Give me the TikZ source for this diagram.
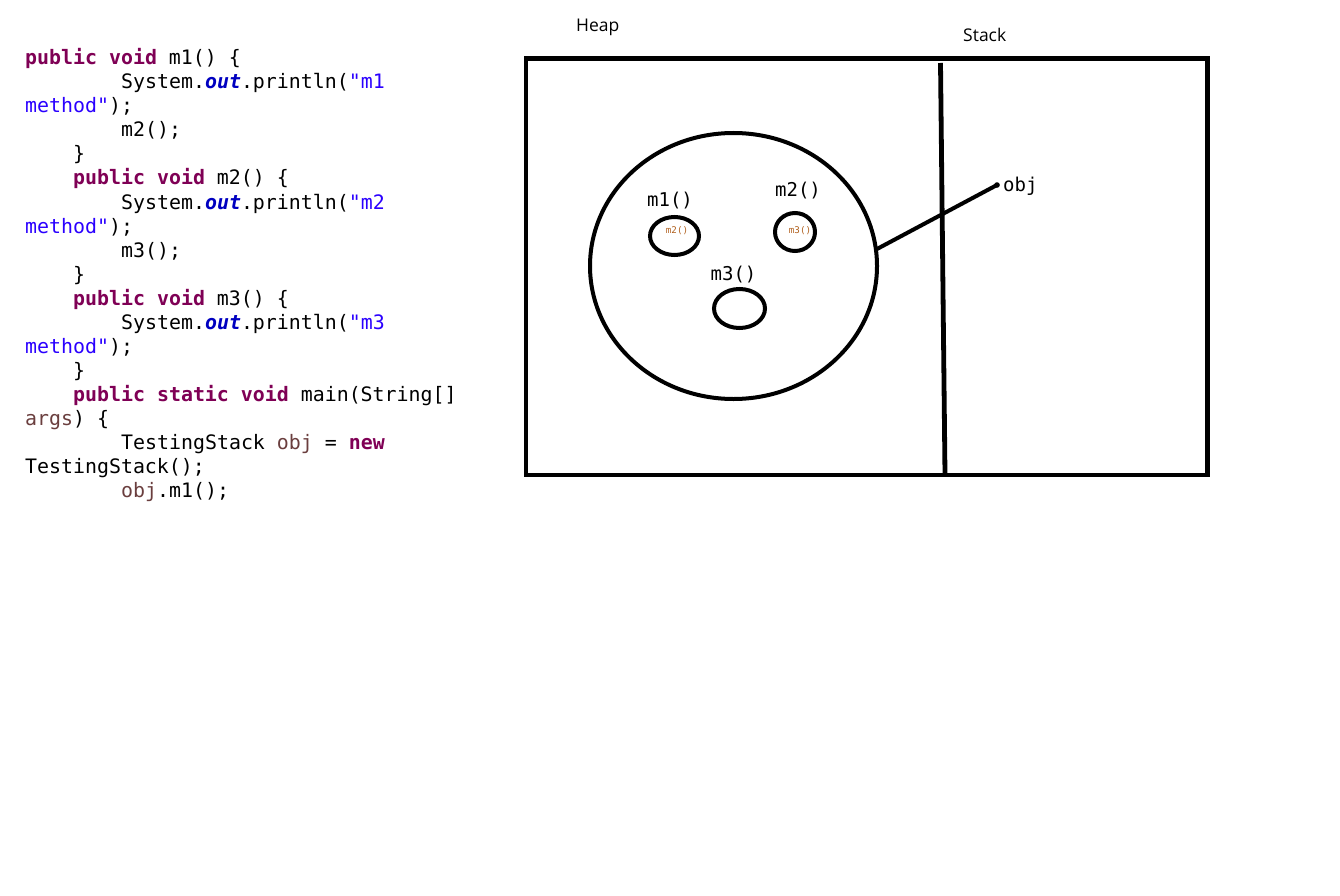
\documentclass[tikz,border=0pt]{standalone}
\usepackage{fontspec}
\usetikzlibrary{shapes.geometric}
\newfontfamily\codefont{DejaVu Sans Mono}
\newfontfamily\labelfont{Open Sans}
\definecolor{kwc}{HTML}{7F0055}
\definecolor{outc}{HTML}{0000C0}
\definecolor{strc}{HTML}{2A00FF}
\definecolor{varc}{HTML}{6A3E3E}
\definecolor{smallc}{HTML}{B0601E}
\newcommand{\kw}[1]{\textcolor{kwc}{\bfseries #1}}
\newcommand{\outk}[1]{\textcolor{outc}{\bfseries\itshape #1}}
\newcommand{\str}[1]{\textcolor{strc}{#1}}
\newcommand{\vr}[1]{\textcolor{varc}{#1}}
\begin{document}
\begin{tikzpicture}[x=1pt,y=-1pt,
  codeline/.style={anchor=base west, inner sep=0pt, font=\codefont\fontsize{19.9}{24}\selectfont},
  plainlabel/.style={inner sep=0pt, font=\codefont\fontsize{19}{22}\selectfont},
  smalllabel/.style={inner sep=0pt, text=smallc, font=\codefont\fontsize{9.2}{10}\selectfont},
  title/.style={anchor=base west, inner sep=0pt, font=\labelfont\fontsize{17.5}{20}\selectfont},
  frame/.style={draw=black, line width=4.8pt},
  blob/.style={ellipse, draw=black, line width=4pt, inner sep=0pt},
  link/.style={draw=black, line width=4pt, line cap=round}
]
\useasboundingbox (0,0) rectangle (1340,896);

% code
\node[codeline] (c1) at (25,65) {\kw{public} \kw{void} m1() \{};
\node[codeline] (c2) at (121,89) {System.\outk{out}.println(\str{"m1}};
\node[codeline] (c3) at (25,113) {\str{method"});};
\node[codeline] (c4) at (121,137) {m2();};
\node[codeline] (c5) at (73,161) {\}};
\node[codeline] (c6) at (73,185) {\kw{public} \kw{void} m2() \{};
\node[codeline] (c7) at (121,209) {System.\outk{out}.println(\str{"m2}};
\node[codeline] (c8) at (25,233) {\str{method"});};
\node[codeline] (c9) at (121,257) {m3();};
\node[codeline] (c10) at (73,281) {\}};
\node[codeline] (c11) at (73,305) {\kw{public} \kw{void} m3() \{};
\node[codeline] (c12) at (121,329) {System.\outk{out}.println(\str{"m3}};
\node[codeline] (c13) at (25,353) {\str{method"});};
\node[codeline] (c14) at (73,377) {\}};
\node[codeline] (c15) at (73,401) {\kw{public} \kw{static} \kw{void} main(String[]};
\node[codeline] (c16) at (25,425) {\vr{args}) \{};
\node[codeline] (c17) at (121,449) {TestingStack \vr{obj} = \kw{new}};
\node[codeline] (c18) at (25,473) {TestingStack();};
\node[codeline] (c19) at (121,497) {\vr{obj}.m1();};

% titles
\node[title] (heap) at (576,32) {Heap};
\node[title] (stack) at (963,42) {Stack};

% frame
\draw[frame] (526,58.5) rectangle (1207.5,475);
\coordinate (divtop) at (940.5,63);
\coordinate (divbot) at (945,475);
\draw[frame] (divtop) -- (divbot);

% object
\node[blob, minimum width=287pt, minimum height=266pt] (objc) at (733.5,266) {};
\node[blob, minimum width=49pt, minimum height=38pt] (e1) at (674.5,236) {};
\node[blob, minimum width=40pt, minimum height=38pt] (e2) at (795,232) {};
\node[blob, minimum width=51pt, minimum height=39pt] (e3) at (739.5,308.5) {};
\node[smalllabel] (s1) at (677,231) {m2()};
\node[smalllabel] (s2) at (800,231) {m3()};
\node[plainlabel] (l1) at (670,200.5) {m1()};
\node[plainlabel] (l2) at (798,190.5) {m2()};
\node[plainlabel] (l3) at (733.5,274.5) {m3()};

% reference
\coordinate (refstart) at (877,249);
\coordinate (objdot) at (997,185);
\draw[link] (refstart) -- (objdot);
\fill (objdot) circle (2.8pt);
\node[plainlabel, anchor=west] (objl) at (1003,186.5) {obj};
\end{tikzpicture}
\end{document}
